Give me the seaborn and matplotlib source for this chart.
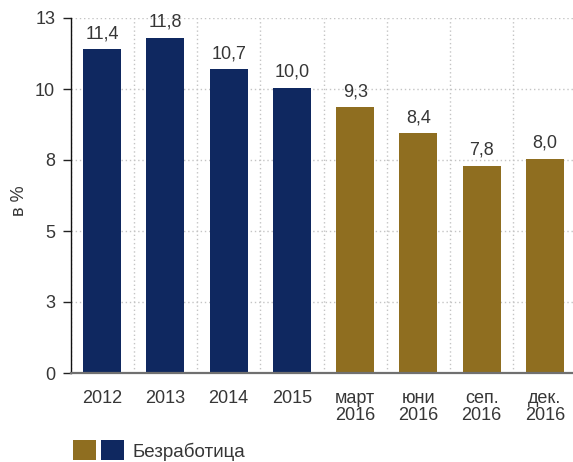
import numpy as np
import matplotlib
matplotlib.use('Agg')
import matplotlib.pyplot as plt
import seaborn as sns
from matplotlib.patches import Patch
from matplotlib.legend_handler import HandlerTuple

categories = ['2012', '2013', '2014', '2015', 'март\n2016', 'юни\n2016', 'сеп.\n2016', 'дек.\n2016']
values = [11.4, 11.8, 10.7, 10.05, 9.35, 8.45, 7.3, 7.55]
value_labels = ['11,4', '11,8', '10,7', '10,0', '9,3', '8,4', '7,8', '8,0']
navy = '#0f2860'
gold = '#8f6e20'
bar_colors = [navy] * 4 + [gold] * 4
y_ticks = [0, 2.5, 5, 7.5, 10, 12.5]
y_tick_labels = ['0', '3', '5', '8', '10', '13']
y_label = 'в %'
legend_label = 'Безработица'

sns.set_style('white')
plt.rcParams['font.family'] = ['Liberation Sans', 'DejaVu Sans']
txt = '#363636'

fig = plt.figure(figsize=(5.73, 4.62), dpi=100)
ax = fig.add_axes([70.5 / 573, 1 - 373 / 462, (576.6 - 70.5) / 573, (373 - 18) / 462])

sns.barplot(x=categories, y=values, hue=categories, palette=bar_colors,
            width=0.6, saturation=1, legend=False, ax=ax, linewidth=0)

for cont, lab in zip(ax.containers, value_labels):
    ax.bar_label(cont, labels=[lab], padding=5, fontsize=13, color=txt)

n = len(categories)
ax.set_xlim(-0.5, n - 0.5)
ax.set_ylim(0, 12.5)
ax.set_xticks(np.arange(n + 1) - 0.5)
ax.set_xticklabels([''] * (n + 1))
ax.set_xticks(np.arange(n), minor=True)
ax.set_xticklabels(categories, minor=True, fontsize=13, color=txt, linespacing=1.05)
ax.tick_params(axis='x', which='minor', length=0, pad=12)
ax.tick_params(axis='x', which='major', length=6, width=1.2, color='#444444', direction='out')

ax.set_yticks(y_ticks)
ax.set_yticklabels(y_tick_labels, fontsize=13, color=txt)
ax.tick_params(axis='y', length=6, width=1.0, color='#222222', direction='out', pad=5, left=True)

ax.set_axisbelow(True)
ax.grid(True, axis='y', which='major', linestyle=(0, (1, 2)), color='#c4c4c4', linewidth=1)
ax.grid(True, axis='x', which='major', linestyle=(0, (1, 2)), color='#c4c4c4', linewidth=1)

for s in ['top', 'right']:
    ax.spines[s].set_visible(False)
ax.spines['left'].set_color('#111111')
ax.spines['left'].set_linewidth(1.0)
ax.spines['bottom'].set_color('#707070')
ax.spines['bottom'].set_linewidth(1.6)

ax.set_xlabel('')
ax.set_ylabel(y_label, fontsize=13, color=txt)
ax.yaxis.set_label_coords((28 - 70.5) / 506, 0.485)

fig.legend(handles=[(Patch(color=gold, linewidth=0), Patch(color=navy, linewidth=0))],
           labels=[legend_label],
           handler_map={tuple: HandlerTuple(ndivide=None, pad=0.27)},
           loc='center left', bbox_to_anchor=(73 / 573, 11.5 / 462),
           frameon=False, borderpad=0, borderaxespad=0,
           handlelength=2.7, handleheight=1.22, handletextpad=0.5,
           fontsize=13.5, labelcolor=txt)

fig.savefig('out.png', dpi=100)
